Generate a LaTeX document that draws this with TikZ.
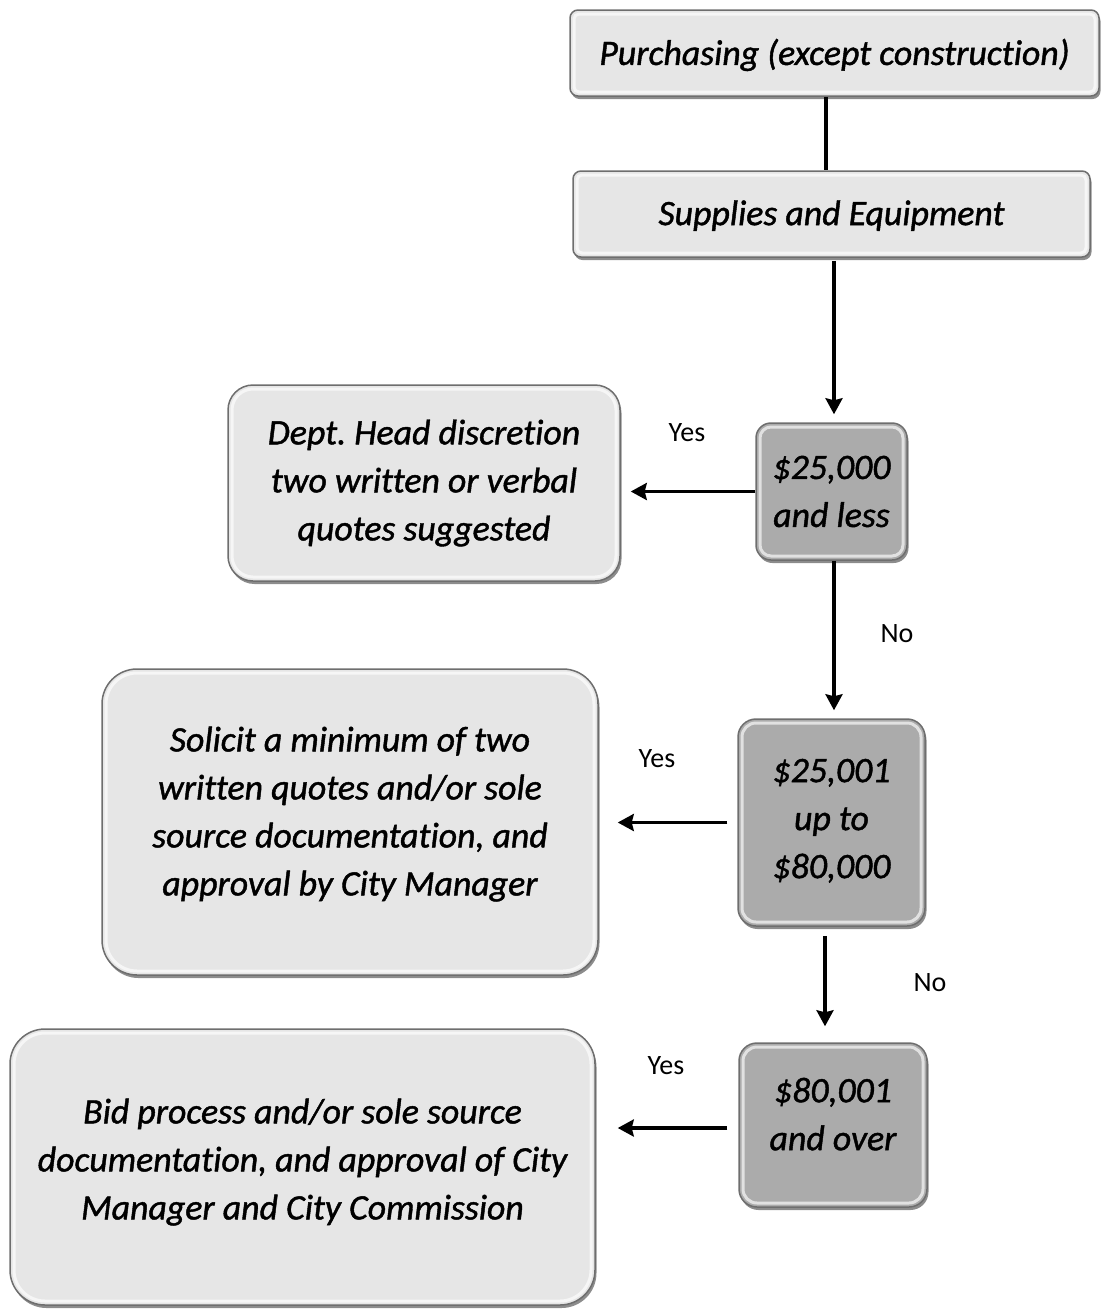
\documentclass[tikz,border=0pt]{standalone}
\usepackage{fontspec}
\setmainfont{Carlito}[Ligatures=NoCommon, ItalicFeatures={FakeBold=1.2}]
\frenchspacing
\usetikzlibrary{shadows,arrows.meta}
\definecolor{lightface}{HTML}{E6E6E6}
\definecolor{darkface}{HTML}{ABABAB}
\definecolor{rimgray}{HTML}{6E6E6E}
\begin{document}
\begin{tikzpicture}[x=1pt,y=-1pt,
  bevel/.style={path picture={
    \draw[white,line width=3pt,opacity=.65,rounded corners=#1]
      ([shift={(4pt,-4pt)}]path picture bounding box.north west) rectangle
      ([shift={(-4pt,4pt)}]path picture bounding box.south east);}},
  basebox/.style={draw=rimgray, line width=1.5pt, align=center, inner sep=0pt,
    font=\itshape\fontsize{35.8}{48}\selectfont,
    drop shadow={shadow xshift=1.5pt, shadow yshift=-3pt, opacity=.45, fill=black}},
  lightbox/.style={basebox, fill=lightface},
  darkbox/.style={basebox, fill=darkface},
  lbl/.style={font=\fontsize{28}{32}\selectfont, inner sep=0pt},
  conn/.style={line width=3.2pt, black},
  arr/.style={conn, -{Stealth[length=16pt,width=17pt,inset=2pt]}}
]
\useasboundingbox (0,0) rectangle (1101,1310);

\node[lightbox, rounded corners=8pt, bevel=5pt, minimum width=529pt, minimum height=86pt]
  (P) at (834.5,53) {\rule{0pt}{30pt}Purchasing (except construction)};
\node[lightbox, rounded corners=8pt, bevel=5pt, minimum width=517pt, minimum height=86pt]
  (S) at (831.5,214) {\rule{0pt}{28pt}Supplies and Equipment};
\node[lightbox, rounded corners=25pt, bevel=21pt, minimum width=392pt, minimum height=196pt]
  (D) at (424,483) {Dept. Head discretion\\two written or verbal\\quotes suggested};
\node[darkbox, rounded corners=15pt, bevel=11pt, minimum width=151pt, minimum height=137pt]
  (A1) at (831.5,491.5) {\$25,000\\and less};
\node[lightbox, rounded corners=35pt, bevel=31pt, minimum width=496pt, minimum height=306pt]
  (Sol) at (350,822) {Solicit a minimum of two\\written quotes and/or sole\\source documentation, and\\approval by City Manager\\[-26pt]};
\node[darkbox, rounded corners=18pt, bevel=14pt, minimum width=187pt, minimum height=207pt]
  (A2) at (831.5,822.5) {\$25,001\\up to\\\$80,000\\[-40pt]};
\node[lightbox, rounded corners=35pt, bevel=31pt, minimum width=585pt, minimum height=276pt]
  (Bid) at (302.5,1167) {Bid process and/or sole source\\documentation, and approval of City\\Manager and City Commission\\[-32pt]};
\node[darkbox, rounded corners=18pt, bevel=14pt, minimum width=188pt, minimum height=164pt]
  (A3) at (833,1125) {\$80,001\\and over\\[-26pt]};

\coordinate (dE) at ([xshift=10pt]D.east);
\coordinate (solE) at ([xshift=19pt]Sol.east);
\coordinate (bidE) at ([xshift=22pt]Bid.east);
\coordinate (a2W) at ([xshift=-10pt]A2.west);
\coordinate (a3W) at ([xshift=-11pt,yshift=-3pt]A3.west);

\draw[conn] ([xshift=-8.5pt]P.south) -- ([xshift=-5.5pt]S.north);
\draw[arr] ([xshift=2.5pt,yshift=-3pt]S.south) -- ([xshift=2.5pt,yshift=8pt]A1.north);
\draw[arr] (A1.west) -- (A1.west -| dE);
\draw[arr] ([xshift=2.5pt]A1.south) -- ([xshift=2.5pt,yshift=8pt]A2.north);
\draw[arr] (a2W) -- (a2W -| solE);
\draw[arr] ([xshift=-6.5pt,yshift=-9pt]A2.south) -- ([xshift=-8pt,yshift=16pt]A3.north);
\draw[arr] (a3W) -- (a3W -| bidE);

\node[lbl] (y1) at (687,433) {Yes};
\node[lbl] (n1) at (897,634) {No};
\node[lbl] (y2) at (657,759) {Yes};
\node[lbl] (n2) at (930,983) {No};
\node[lbl] (y3) at (666,1066) {Yes};
\end{tikzpicture}
\end{document}
